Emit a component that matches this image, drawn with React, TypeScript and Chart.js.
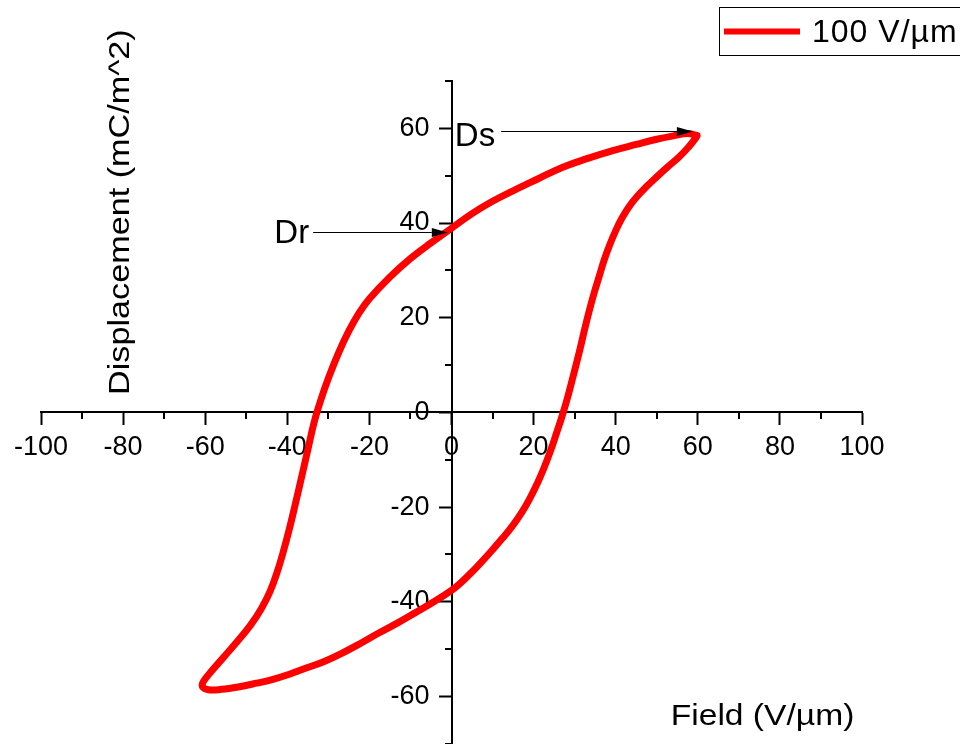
import React, { useEffect, useRef } from 'react';
import { Chart, registerables } from 'chart.js';

Chart.register(...registerables);

const seriesLabel = '100 V/µm';
const xTitle = 'Field (V/µm)';
const yTitle = 'Displacement (mC/m^2)';

const xMajorStep = 20;
const xMinorTicks = [-90, -70, -50, -30, -10, 10, 30, 50, 70, 90];
const yMajorTicks = [-60, -40, -20, 0, 20, 40, 60];
const yMinorTicks = [-70, -50, -30, -10, 10, 30, 50, 70];

// Upper branch: field sweeping from +60 down to -60
const upperField = [59.8, 57.5, 54, 50, 45, 39.3, 33, 27.1, 21, 15, 10, 5, 0, -5, -10, -15, -20, -22.5, -25, -27.5, -30, -32, -33.5, -35, -36.5, -38, -39.5, -41, -42.5, -44.2, -46.3, -49, -52.3, -55.7, -58.6, -60.4, -60.7];
const upperDisp = [58.5, 58.9, 58.4, 57.7, 56.6, 55.3, 53.6, 51.8, 49.3, 46.8, 44.6, 42, 38.9, 35.8, 32.5, 28.6, 24, 21, 17.2, 12.6, 7.2, 2.2, -2.2, -7.9, -13.6, -19.2, -24.6, -29.5, -33.8, -37.8, -41.4, -45, -48.5, -51.9, -54.8, -56.8, -57.9];

// Lower branch: field sweeping from -60 back up to +60
const lowerField = [-59.2, -56, -52, -47.5, -43.5, -39.5, -35.4, -31, -27, -22, -17.5, -13, -9, -4.5, 0, 2.5, 5, 7.5, 10, 12.5, 15, 17, 19, 21, 22.5, 24, 25.5, 26.9, 28.2, 29.5, 31.2, 32.5, 33.6, 34.8, 36, 37.2, 38.5, 40, 41.5, 43.2, 45.2, 47.5, 49.8, 52.6, 55.5, 57.8, 59.3, 59.8];
const lowerDisp = [-58.6, -58.5, -58, -57.2, -56.4, -55.3, -54, -52.6, -51, -48.7, -46.5, -44.4, -42.4, -40.1, -37.6, -35.8, -33.7, -31.4, -29, -26.5, -23.8, -21.3, -18.3, -14.8, -11.8, -8.4, -4.6, -0.9, 2.9, 7.2, 13, 17.8, 21.6, 25.4, 28.8, 32.2, 35.3, 38.4, 41, 43.4, 45.6, 47.7, 49.6, 51.8, 54, 56.1, 57.7, 58.4];

// Annotations (data coordinates)
const dsLabel = 'Ds';
const dsArrowFrom = [12.1, 59.4];
const dsArrowTo = [58.8, 59.4];
const drLabel = 'Dr';
const drArrowFrom = [-33.7, 38.0];
const drArrowTo = [-0.9, 38.0];

const FONT = '"Liberation Sans", Arial, Helvetica, sans-serif';

function buildPoints() {
  const pts: { x: number; y: number }[] = [];
  upperField.forEach((x, i) => pts.push({ x, y: upperDisp[i] }));
  lowerField.forEach((x, i) => pts.push({ x, y: lowerDisp[i] }));
  return pts;
}

function drawArrow(ctx: CanvasRenderingContext2D, x1: number, y1: number, x2: number, y2: number) {
  ctx.save();
  ctx.strokeStyle = '#000';
  ctx.fillStyle = '#000';
  ctx.lineWidth = 1;
  const headLen = 16;
  const headHalf = 4.5;
  ctx.beginPath();
  ctx.moveTo(x1, y1);
  ctx.lineTo(x2 - headLen, y2);
  ctx.stroke();
  ctx.beginPath();
  ctx.moveTo(x2, y2);
  ctx.lineTo(x2 - headLen, y2 - headHalf);
  ctx.lineTo(x2 - headLen, y2 + headHalf);
  ctx.closePath();
  ctx.fill();
  ctx.restore();
}

const decorPlugin = {
  id: 'decor',
  beforeDraw(chart: any) {
    // y tick labels of an axis positioned at x=0 sit on the axis line; move them left of the tick marks
    const ys = chart.scales.y;
    const shift = ys.options.grid.tickLength + ys.options.ticks.padding;
    const items = ys.getLabelItems();
    items.forEach((it: any) => {
      if (!it._shifted) {
        it.options.translation[0] -= shift;
        it._shifted = true;
      }
    });
  },
  beforeDatasetsDraw(chart: any) {
    const ctx: CanvasRenderingContext2D = chart.ctx;
    const xs = chart.scales.x;
    const ys = chart.scales.y;
    const x0 = Math.round(xs.getPixelForValue(0));
    const y0 = Math.round(ys.getPixelForValue(0));
    ctx.save();
    ctx.strokeStyle = '#000';
    ctx.lineWidth = 2;
    ctx.beginPath();
    xMinorTicks.forEach((v) => {
      const px = Math.round(xs.getPixelForValue(v));
      ctx.moveTo(px, y0 + 1);
      ctx.lineTo(px, y0 + 7);
    });
    yMinorTicks.forEach((v) => {
      const py = Math.round(ys.getPixelForValue(v));
      ctx.moveTo(x0 - 1, py);
      ctx.lineTo(x0 - 7, py);
    });
    ctx.stroke();
    ctx.restore();
  },
  afterDatasetsDraw(chart: any) {
    const ctx: CanvasRenderingContext2D = chart.ctx;
    const xs = chart.scales.x;
    const ys = chart.scales.y;
    const px = (v: number) => xs.getPixelForValue(v);
    const py = (v: number) => ys.getPixelForValue(v);

    // Ds annotation
    const dsY = Math.round(py(dsArrowFrom[1])) + 0.5;
    drawArrow(ctx, px(dsArrowFrom[0]), dsY, px(dsArrowTo[0]), dsY);
    // Dr annotation
    const drY = Math.round(py(drArrowFrom[1])) + 0.5;
    drawArrow(ctx, px(drArrowFrom[0]), drY, px(drArrowTo[0]), drY);

    ctx.save();
    ctx.fillStyle = '#000';
    ctx.font = `33px ${FONT}`;
    ctx.textAlign = 'right';
    ctx.textBaseline = 'alphabetic';
    ctx.fillText(dsLabel, px(dsArrowFrom[0]) - 6, dsY + 14);
    ctx.fillText(drLabel, px(drArrowFrom[0]) - 4, drY + 10);
    ctx.restore();

    // Axis titles
    ctx.save();
    ctx.fillStyle = '#000';
    ctx.font = `30px ${FONT}`;
    ctx.textAlign = 'left';
    ctx.textBaseline = 'alphabetic';
    ctx.translate(px(53.4), py(-66.1));
    ctx.scale(1.12, 1);
    ctx.fillText(xTitle, 0, 0);
    ctx.restore();

    ctx.save();
    ctx.fillStyle = '#000';
    ctx.font = `30px ${FONT}`;
    ctx.translate(px(-78.5), py(42.3));
    ctx.rotate(-Math.PI / 2);
    ctx.scale(1.14, 1);
    ctx.textAlign = 'center';
    ctx.textBaseline = 'alphabetic';
    ctx.fillText(yTitle, 0, 0);
    ctx.restore();

    // Legend box
    const ds = chart.data.datasets[0];
    ctx.save();
    ctx.strokeStyle = '#000';
    ctx.lineWidth = 1;
    ctx.strokeRect(719.5, 7.5, 300, 48);
    ctx.strokeStyle = ds.borderColor;
    ctx.lineWidth = 6;
    ctx.beginPath();
    ctx.moveTo(724, 31.5);
    ctx.lineTo(800, 31.5);
    ctx.stroke();
    ctx.fillStyle = '#000';
    ctx.font = `32px ${FONT}`;
    (ctx as any).letterSpacing = '1px';
    ctx.textAlign = 'left';
    ctx.textBaseline = 'alphabetic';
    ctx.fillText(ds.label, 812, 42);
    ctx.restore();
  },
};

export default function App() {
  const ref = useRef<HTMLCanvasElement | null>(null);
  useEffect(() => {
    const canvas = ref.current;
    if (!canvas) return;
    const tickFont = { family: FONT, size: 27 };
    const chart = new Chart(canvas, {
      type: 'scatter',
      data: {
        datasets: [
          {
            label: seriesLabel,
            data: buildPoints(),
            showLine: true,
            borderColor: '#ff0000',
            backgroundColor: '#ff0000',
            borderWidth: 7,
            pointRadius: 0,
            pointHoverRadius: 0,
            tension: 0.4,
            borderJoinStyle: 'round',
            borderCapStyle: 'round',
            fill: false,
          } as any,
        ],
      },
      options: {
        responsive: false,
        animation: false,
        devicePixelRatio: 1,
        events: [],
        layout: { padding: { left: 41, right: 98, top: 81, bottom: 24 } },
        plugins: { legend: { display: false }, tooltip: { enabled: false }, title: { display: false } },
        scales: {
          x: {
            type: 'linear',
            position: { y: 0 } as any,
            min: -100,
            max: 100,
            ticks: {
              stepSize: xMajorStep,
              color: '#000',
              font: tickFont,
              padding: 7,
              maxRotation: 0,
              autoSkip: false,
            },
            grid: {
              drawOnChartArea: false,
              drawTicks: true,
              tickLength: 12,
              tickWidth: 2,
              tickColor: '#000',
            },
            border: { display: true, color: '#000', width: 2 },
          },
          y: {
            type: 'linear',
            position: { x: 0 } as any,
            min: -70,
            max: 70,
            afterBuildTicks: (scale: any) => {
              scale.ticks = yMajorTicks.map((v) => ({ value: v }));
            },
            ticks: {
              color: '#000',
              font: tickFont,
              padding: 10,
              autoSkip: false,
            },
            grid: {
              drawOnChartArea: false,
              drawTicks: true,
              tickLength: 12,
              tickWidth: 2,
              tickColor: '#000',
            },
            border: { display: true, color: '#000', width: 2 },
          },
        },
      } as any,
      plugins: [decorPlugin],
    });
    return () => chart.destroy();
  }, []);
  return (
    <div style={{ position: 'fixed', left: 0, top: 0, width: 960, height: 770, overflow: 'hidden', background: '#fff' }}>
      <canvas ref={ref} width={960} height={770} style={{ display: 'block', width: 960, height: 770 }} />
    </div>
  );
}
